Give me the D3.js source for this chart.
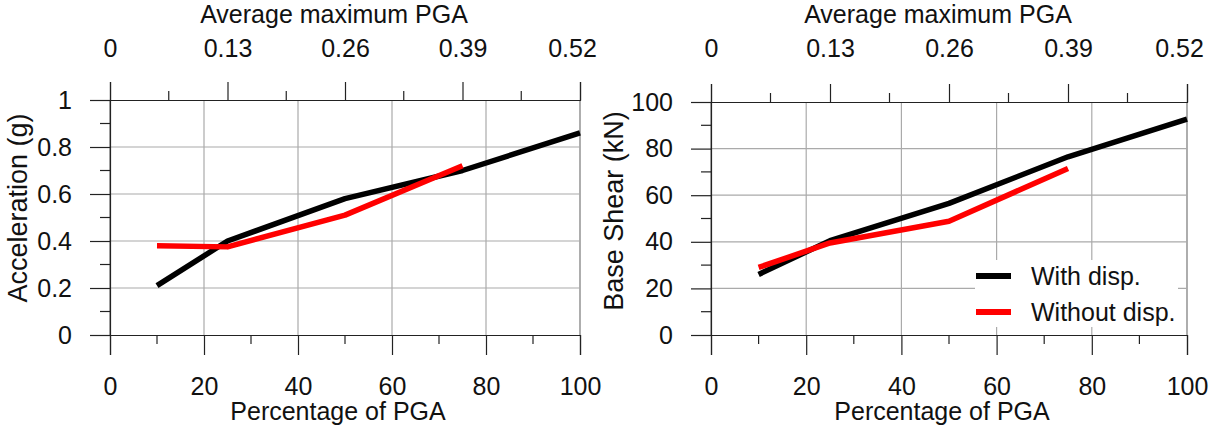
<!DOCTYPE html>
<html>
<head>
<meta charset="utf-8">
<script src="https://cdn.jsdelivr.net/npm/d3@7"></script>
<style>
  body { margin: 0; background: #fff; }
  text { font-family: "Liberation Sans", Arial, sans-serif; fill: #111; }
</style>
</head>
<body>
<div id="chart-area"></div>
<script>
// DATA
const pctWith = [10, 25, 50, 75, 100]
const pctWithout = [10, 25, 50, 75]
const accWith = [0.21, 0.40, 0.58, 0.70, 0.86]
const accWithout = [0.38, 0.375, 0.51, 0.72]
const shearWith = [26, 40.5, 56.5, 76.5, 92.7]
const shearWithout = [29, 39.5, 48.8, 71.5]
const bottomTicks = [0, 20, 40, 60, 80, 100]
const topTicks = [0, 0.13, 0.26, 0.39, 0.52]
const accTicks = [0, 0.2, 0.4, 0.6, 0.8, 1]
const shearTicks = [0, 20, 40, 60, 80, 100]
const seriesNames = ["With disp.", "Without disp."]
const seriesColors = ["#000000", "#ff0000"]

const svg = d3.select("#chart-area")
  .append("svg")
    .attr("width", 1212)
    .attr("height", 427)

// one panel (left / right)
function drawPanel(p) {
  const x = d3.scaleLinear().domain([0, 100]).range([p.left, p.right])
  const xTop = d3.scaleLinear().domain([0, 0.52]).range([p.left, p.right])
  const y = d3.scaleLinear().domain(p.yDomain).range([p.bottom, p.top])
  const g = svg.append("g")

  // grid
  const yStep = p.yTicks[1] - p.yTicks[0]
  g.append("g").selectAll("line")
    .data(bottomTicks)
    .enter().append("line")
      .attr("x1", d => x(d)).attr("x2", d => x(d))
      .attr("y1", p.top).attr("y2", p.bottom)
      .attr("stroke", d => (d === 0 || d === 100) ? "#777" : "#aaa")
      .attr("stroke-width", 1.2)
  g.append("g").selectAll("line")
    .data(p.yTicks.slice(1, -1))
    .enter().append("line")
      .attr("x1", p.left).attr("x2", p.right)
      .attr("y1", d => y(d)).attr("y2", d => y(d))
      .attr("stroke", "#aaa")
      .attr("stroke-width", 1.2)

  // minor ticks
  const xMinor = d3.range(10, 100, 20)
  const topMinor = topTicks.slice(0, -1).map(d => d + 0.065)
  const yMinor = p.yTicks.slice(0, -1).map(d => d + yStep / 2)

  const minor = g.append("g").attr("stroke", "#222").attr("stroke-width", 1.2)
  minor.selectAll(".mb").data(xMinor).enter().append("line")
    .attr("x1", d => x(d)).attr("x2", d => x(d))
    .attr("y1", p.bottom).attr("y2", p.bottom + 9)
  minor.selectAll(".mt").data(topMinor).enter().append("line")
    .attr("x1", d => xTop(d)).attr("x2", d => xTop(d))
    .attr("y1", p.top).attr("y2", p.top - 9)
  minor.selectAll(".ml").data(yMinor).enter().append("line")
    .attr("x1", p.left - 10).attr("x2", p.left)
    .attr("y1", d => y(d)).attr("y2", d => y(d))

  // axes
  const xAxisCall = d3.axisBottom(x).tickValues(bottomTicks).tickSize(20).tickPadding(22)
  g.append("g")
    .attr("transform", "translate(0, " + p.bottom + ")")
    .call(xAxisCall)

  const topAxisCall = d3.axisTop(xTop).tickValues(topTicks).tickSize(18)
    .tickPadding(p.top - 57 - 18).tickFormat(d3.format(""))
  const topAxis = g.append("g")
    .attr("transform", "translate(0, " + p.top + ")")
    .call(topAxisCall)
  topAxis.selectAll(".tick:last-of-type text").attr("dx", -8)

  const yAxisCall = d3.axisLeft(y).tickValues(p.yTicks).tickSize(20).tickPadding(18)
    .tickFormat(d3.format(""))
  g.append("g")
    .attr("transform", "translate(" + p.left + ", 0)")
    .call(yAxisCall)

  g.selectAll(".domain").attr("stroke", "#222").attr("stroke-width", 1.2)
  g.selectAll(".tick line").attr("stroke", "#222").attr("stroke-width", 1.2)
  g.selectAll(".tick text")
    .attr("font-family", "Liberation Sans, Arial, sans-serif")
    .attr("font-size", "25px")
    .attr("fill", "#111")

  // axis titles
  const cx = (p.left + p.right) / 2
  g.append("text")
    .attr("x", cx - 11).attr("y", 22.5)
    .attr("text-anchor", "middle").attr("font-size", "25px")
    .text("Average maximum PGA")
  g.append("text")
    .attr("x", cx - 7).attr("y", 420)
    .attr("text-anchor", "middle").attr("font-size", "25px")
    .text("Percentage of PGA")
  g.append("text")
    .attr("transform", "rotate(-90)")
    .attr("x", -p.yTitleY).attr("y", p.yTitleX)
    .attr("text-anchor", "middle").attr("font-size", "27px")
    .text(p.yTitle)

  // lines
  const line = d3.line().x(d => x(d[0])).y(d => y(d[1]))
  p.series.forEach((s, i) => {
    g.append("path")
      .datum(d3.zip(s.x, s.y))
      .attr("d", line)
      .attr("fill", "none")
      .attr("stroke", seriesColors[i])
      .attr("stroke-width", 5.5)
      .attr("stroke-linejoin", "round")
  })

  return { x, y }
}

drawPanel({
  left: 110, right: 580, top: 100, bottom: 335,
  yDomain: [0, 1], yTicks: accTicks,
  yTitle: "Acceleration (g)", yTitleX: 27, yTitleY: 208,
  series: [{ x: pctWith, y: accWith }, { x: pctWithout, y: accWithout }]
})

drawPanel({
  left: 711, right: 1187, top: 102, bottom: 335,
  yDomain: [0, 100], yTicks: shearTicks,
  yTitle: "Base Shear (kN)", yTitleX: 623, yTitleY: 211,
  series: [{ x: pctWith, y: shearWith }, { x: pctWithout, y: shearWithout }]
})

// LEGEND (right panel)
const legend = svg.append("g")
legend.append("rect")
  .attr("x", 975).attr("y", 260).attr("width", 203).attr("height", 67)
  .attr("fill", "#fff")
seriesNames.forEach((name, i) => {
  const ly = 276 + i * 36
  legend.append("line")
    .attr("x1", 976).attr("x2", 1011)
    .attr("y1", ly).attr("y2", ly)
    .attr("stroke", seriesColors[i]).attr("stroke-width", 6)
  legend.append("text")
    .attr("x", 1031).attr("y", ly + 8.5)
    .attr("font-size", "25px")
    .text(name)
})
</script>
</body>
</html>
